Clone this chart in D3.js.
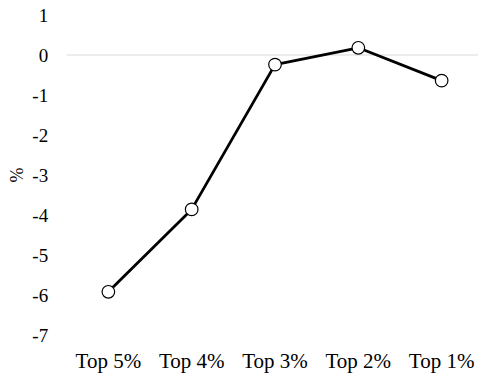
<!DOCTYPE html>
<html>
<head>
<meta charset="utf-8">
<script src="https://cdn.jsdelivr.net/npm/d3@7"></script>
<style>
  html, body { margin: 0; padding: 0; background: #fff; }
  .lbl { font-family: 'Times New Roman', 'Liberation Serif' !important; }
</style>
</head>
<body>
<svg id="chart" width="478" height="375"></svg>
<script>
// Change in share (%) by top income group
const categories = ["Top 5%", "Top 4%", "Top 3%", "Top 2%", "Top 1%"];
const values = [-5.92, -3.86, -0.24, 0.18, -0.64];
const yTicks = [1, 0, -1, -2, -3, -4, -5, -6, -7];
const yLabel = "%";

const svg = d3.select("#chart");
const margin = { left: 66.7, right: -5.3, top: 15, bottom: 40 };
const W = 478, H = 375;

const x = d3.scaleBand()
  .domain(categories)
  .range([margin.left, W - margin.right])
  .paddingInner(0).paddingOuter(0);

const y = d3.scaleLinear()
  .domain([-7, 1])
  .range([H - margin.bottom, margin.top]);

// zero reference line
svg.append("line")
  .attr("x1", margin.left).attr("x2", W)
  .attr("y1", y(0)).attr("y2", y(0))
  .attr("stroke", "#d9d9d9").attr("stroke-width", 1);

// y axis labels
const yAxis = svg.append("g")
  .attr("transform", `translate(${margin.left},0)`)
  .call(d3.axisLeft(y).tickValues(yTicks).tickFormat(d => String(d)).tickSize(0).tickPadding(18.5));
yAxis.select(".domain").remove();
yAxis.attr("font-family", "Times New Roman").attr("font-size", 19);
yAxis.selectAll("text")
  .attr("class", "lbl")
  .attr("font-family", "Times New Roman")
  .style("fill", "#000");

// x labels placed from the band scale
svg.append("g")
  .attr("font-family", "Times New Roman")
  .selectAll("text")
  .data(categories)
  .join("text")
  .attr("class", "lbl")
  .attr("x", d => x(d) + x.bandwidth() / 2)
  .attr("y", y(-7) + 33)
  .attr("text-anchor", "middle")
  .attr("font-family", "Times New Roman")
  .attr("font-size", 21)
  .style("fill", "#000")
  .text(d => d);

// y axis title
svg.append("text")
  .attr("class", "lbl")
  .attr("transform", `translate(17,${(y(1) + y(-7)) / 2}) rotate(-90)`)
  .attr("text-anchor", "middle")
  .attr("dy", "0.35em")
  .attr("font-family", "Times New Roman")
  .attr("font-size", 18)
  .style("fill", "#000")
  .text(yLabel);

const cx = (d, i) => x(categories[i]) + x.bandwidth() / 2;

// series line
svg.append("path")
  .datum(values)
  .attr("fill", "none")
  .attr("stroke", "#000")
  .attr("stroke-width", 2.8)
  .attr("stroke-linejoin", "round")
  .attr("d", d3.line().x(cx).y(d => y(d)));

// markers
svg.selectAll("circle.pt")
  .data(values)
  .join("circle")
  .attr("class", "pt")
  .attr("cx", cx)
  .attr("cy", d => y(d))
  .attr("r", 6.3)
  .attr("fill", "#fff")
  .attr("stroke", "#000")
  .attr("stroke-width", 1.2);
</script>
</body>
</html>
